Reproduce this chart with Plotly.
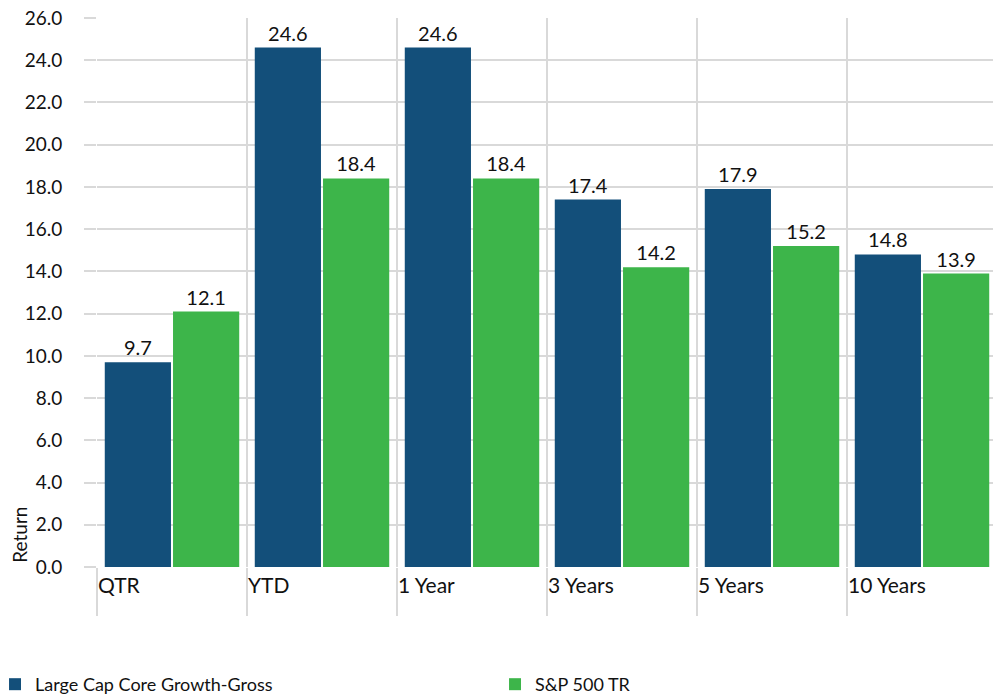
import plotly.graph_objects as go

categories = ["QTR", "YTD", "1 Year", "3 Years", "5 Years", "10 Years"]
series_names = ["Large Cap Core Growth-Gross", "S&P 500 TR"]
fund_values = [9.7, 24.6, 24.6, 17.4, 17.9, 14.8]
bench_values = [12.1, 18.4, 18.4, 14.2, 15.2, 13.9]
y_ticks = [0, 2, 4, 6, 8, 10, 12, 14, 16, 18, 20, 22, 24, 26]

colors = ["#134F7A", "#3DB54A"]
legend_ids = ["legend", "legend2"]
FONT = "Lato, 'Open Sans', sans-serif"

xpos = [i + 0.5 for i in range(len(categories))]

fig = go.Figure()
for name, vals, col, lg in zip(series_names, [fund_values, bench_values], colors, legend_ids):
    fig.add_trace(go.Bar(
        x=xpos, y=vals, name=name, marker=dict(color=col, line=dict(width=0)),
        text=[f"{v:.1f}" for v in vals], textposition="outside",
        textfont=dict(size=20, color="#111111", family=FONT),
        cliponaxis=False, legend=lg,
    ))

legend_common = dict(orientation="h", xref="paper", yref="paper", y=-0.214,
                     xanchor="left", yanchor="middle",
                     font=dict(size=18, family=FONT), itemwidth=30,
                     bgcolor="rgba(0,0,0,0)")

# page body has an 8px offset, compensate in margins
fig.update_layout(
    width=1001, height=696,
    margin=dict(l=89, r=12, t=10, b=137, autoexpand=False),
    plot_bgcolor="white", paper_bgcolor="white",
    font=dict(family=FONT, size=19, color="#111111"),
    barmode="group", bargap=0.09, bargroupgap=0.03,
    showlegend=True,
    legend=dict(x=-0.1133, **legend_common),
    legend2=dict(x=-0.1133 + 500 / 900, **legend_common),
    xaxis=dict(
        range=[0, len(categories)],
        tickvals=list(range(len(categories) + 1)),
        ticktext=categories + [""],
        ticklabelposition="outside right",
        ticks="outside", ticklen=48, tickwidth=2, tickcolor="#d9d9d9",
        ticklabelstandoff=0, ticklabeloverflow="allow",
        showgrid=True, gridcolor="#d9d9d9", gridwidth=2,
        zeroline=False, showline=False, automargin=False,
        tickfont=dict(size=21, family=FONT),
    ),
    yaxis=dict(
        range=[0, 26], tickvals=y_ticks, tickformat=".1f",
        ticks="outside", ticklen=12, tickwidth=2, tickcolor="#d9d9d9",
        showgrid=True, gridcolor="#d9d9d9", gridwidth=2,
        zeroline=False, showline=False, ticklabelstandoff=18, automargin=False,
        ticklabeloverflow="allow",
        tickfont=dict(size=19, family=FONT),
    ),
    annotations=[dict(text="Return", textangle=-90, xref="paper", yref="paper",
                      x=-0.0856, y=0.004, xanchor="center", yanchor="bottom",
                      showarrow=False, font=dict(size=19, family=FONT))],
)

fig.write_html("out.html")
